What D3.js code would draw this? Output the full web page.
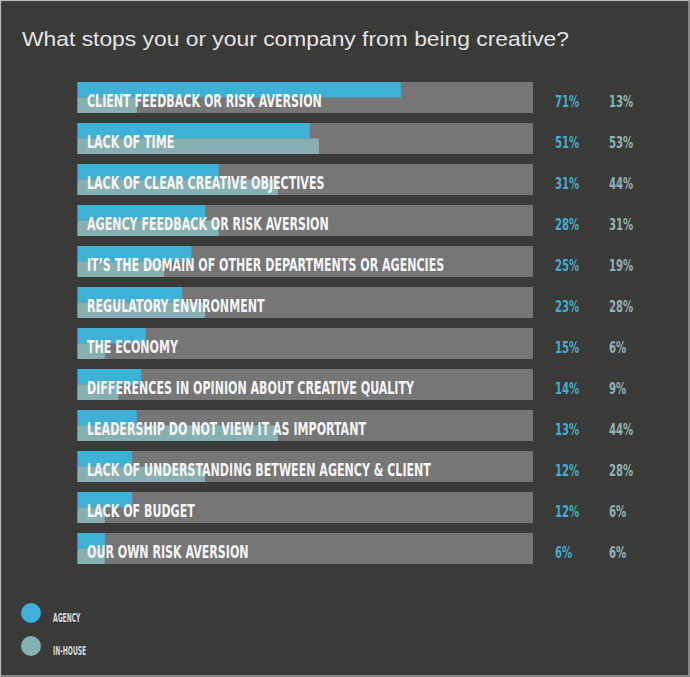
<!DOCTYPE html>
<html>
<head>
<meta charset="utf-8">
<script src="https://cdn.jsdelivr.net/npm/d3@7"></script>
<style>
  html, body { margin: 0; padding: 0; background: #3a3a38; }
  svg { display: block; }
</style>
</head>
<body>
<script>
// Survey answers: share of respondents naming each barrier
const categories = [
  "CLIENT FEEDBACK OR RISK AVERSION",
  "LACK OF TIME",
  "LACK OF CLEAR CREATIVE OBJECTIVES",
  "AGENCY FEEDBACK OR RISK AVERSION",
  "IT\u2019S THE DOMAIN OF OTHER DEPARTMENTS OR AGENCIES",
  "REGULATORY ENVIRONMENT",
  "THE ECONOMY",
  "DIFFERENCES IN OPINION ABOUT CREATIVE QUALITY",
  "LEADERSHIP DO NOT VIEW IT AS IMPORTANT",
  "LACK OF UNDERSTANDING BETWEEN AGENCY & CLIENT",
  "LACK OF BUDGET",
  "OUR OWN RISK AVERSION"
];
const agency  = [71, 51, 31, 28, 25, 23, 15, 14, 13, 12, 12, 6];
const inHouse = [13, 53, 44, 31, 19, 28, 6, 9, 44, 28, 6, 6];
const seriesNames = ["AGENCY", "IN-HOUSE"];
const title = "What stops you or your company from being creative?";

const W = 690, H = 677;
const colors = {
  bg: "#3a3a38",
  track: "#767676",
  agency: "#3db1d7",
  inHouse: "#87b0b2",
  agencyText: "#45acd0",
  inHouseText: "#92b4b6",
  label: "#f5f5f5",
  title: "#e4e4e4"
};

const svg = d3.select("body").append("svg")
  .attr("width", W).attr("height", H);

svg.append("rect")
  .attr("x", 0.5).attr("y", 0.5)
  .attr("width", W - 1.5).attr("height", H - 1.5)
  .attr("fill", colors.bg)
  .attr("stroke", "#b9b9b9").attr("stroke-width", 1.2);

const rows = categories.map((c, i) => ({ name: c, agency: agency[i], inHouse: inHouse[i] }));

const x = d3.scaleLinear().domain([0, 100]).range([77.5, 533]);
const y = d3.scaleBand()
  .domain(categories)
  .range([77, 77 + 12 * 41])
  .paddingInner(10 / 41)
  .paddingOuter(5 / 41);
const half = y.bandwidth() / 2;

const condensedFont = "'Liberation Sans Narrow', 'DejaVu Sans Condensed', 'Liberation Sans', sans-serif";

// Title
const t = svg.append("text")
  .attr("x", 22).attr("y", 46)
  .attr("fill", colors.title)
  .attr("font-family", "'Liberation Sans', Arial, sans-serif")
  .attr("font-size", 20.5)
  .text(title);
const tl = t.node().getComputedTextLength();
t.attr("textLength", 547).attr("lengthAdjust", "spacingAndGlyphs");

const g = svg.append("g");
const row = g.selectAll("g.row").data(rows).join("g").attr("class", "row");

// full-width track
row.append("rect")
  .attr("x", x(0)).attr("y", d => y(d.name))
  .attr("width", x(100) - x(0)).attr("height", y.bandwidth())
  .attr("fill", colors.track);

// agency share on the upper half
row.append("rect")
  .attr("x", x(0)).attr("y", d => y(d.name))
  .attr("width", d => x(d.agency) - x(0)).attr("height", half)
  .attr("fill", colors.agency);

// in-house share on the lower half
row.append("rect")
  .attr("x", x(0)).attr("y", d => y(d.name) + half)
  .attr("width", d => x(d.inHouse) - x(0)).attr("height", y.bandwidth() - half)
  .attr("fill", colors.inHouse);

// category labels in a compressed bold face
const labels = row.append("text")
  .attr("fill", colors.label)
  .attr("font-family", condensedFont)
  .attr("font-weight", "bold")
  .attr("font-size", 18)
  .text(d => d.name);

const firstLen = labels.node().getComputedTextLength();
const squeeze = 235 / firstLen;
labels.attr("transform", d => `translate(87,${y(d.name) + 24.5}) scale(${squeeze},1)`);

// value labels
row.append("text")
  .attr("fill", colors.agencyText)
  .attr("font-family", condensedFont)
  .attr("font-weight", "bold")
  .attr("font-size", 16.5)
  .attr("transform", d => `translate(555,${y(d.name) + 24.5}) scale(${squeeze},1)`)
  .text(d => d.agency + "%");

row.append("text")
  .attr("fill", colors.inHouseText)
  .attr("font-family", condensedFont)
  .attr("font-weight", "bold")
  .attr("font-size", 16.5)
  .attr("transform", d => `translate(609,${y(d.name) + 24.5}) scale(${squeeze},1)`)
  .text(d => d.inHouse + "%");

// legend
const legend = svg.append("g");
const legendColors = [colors.agency, colors.inHouse];
const ly = d3.scalePoint().domain(seriesNames).range([613, 646]);
const li = legend.selectAll("g").data(seriesNames).join("g");
li.append("circle")
  .attr("cx", 31).attr("cy", d => ly(d)).attr("r", 10)
  .attr("fill", (d, i) => legendColors[i]);
li.append("text")
  .attr("fill", "#d9d9d9")
  .attr("font-family", condensedFont)
  .attr("font-weight", "bold")
  .attr("font-size", 11.5)
  .attr("transform", d => `translate(53,${ly(d) + 8.5}) scale(${squeeze * 0.85},1)`)
  .text(d => d);
</script>
</body>
</html>
